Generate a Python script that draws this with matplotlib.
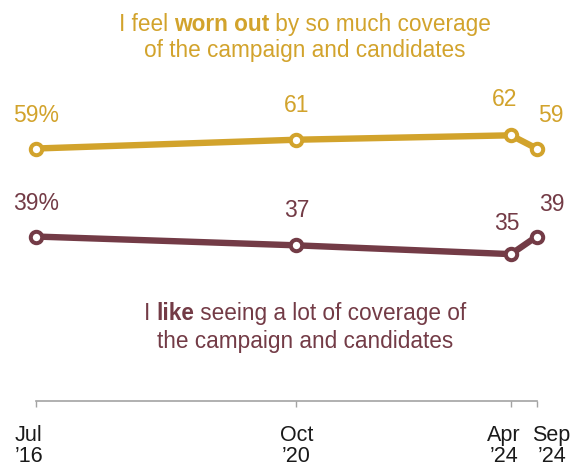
import matplotlib
matplotlib.use("Agg")
import matplotlib.pyplot as plt
from matplotlib.transforms import IdentityTransform, offset_copy, Affine2D
from matplotlib import font_manager

# Survey waves (decimal years, mid-month) and tick labels
survey_dates = [2016 + 6.5 / 12, 2020 + 9.5 / 12, 2024 + 3.5 / 12, 2024 + 8.5 / 12]
tick_labels = ["Jul\n\u201916", "Oct\n\u201920", "Apr\n\u201924", "Sep\n\u201924"]

# Share of U.S. adults (%)
worn_out = [59, 61, 62, 59]
like_coverage = [39, 37, 35, 39]

GOLD = "#D2A32C"
MAROON = "#733B46"
AXIS_GRAY = "#A3A3A3"

available = {f.name for f in font_manager.fontManager.ttflist}
FONT = ["Liberation Sans Narrow", "Liberation Sans", "DejaVu Sans"]
FONT = [f for f in FONT if f in available] or ["DejaVu Sans"]
plt.rcParams["font.family"] = FONT

fig = plt.figure(figsize=(5.79, 4.68), dpi=100)
ax = fig.add_axes([0, 0, 1, 1])
ax.set_xlim(2015.955, 2025.400)
ax.set_ylim(-13.6, 92.75)
ax.patch.set_visible(False)

for sp in ("top", "right", "left"):
    ax.spines[sp].set_visible(False)
ax.spines["bottom"].set_position(("data", 1.6))
ax.spines["bottom"].set_color(AXIS_GRAY)
ax.spines["bottom"].set_linewidth(1.2)
ax.spines["bottom"].set_bounds(survey_dates[0], survey_dates[-1])
ax.set_yticks([])
ax.set_xticks(survey_dates)
ax.set_xticklabels(tick_labels, fontsize=15.5, color="#1a1a1a", linespacing=1.0)
ax.tick_params(axis="x", direction="out", length=4, width=1, color=AXIS_GRAY, pad=13)

# nudge the two close 2024 labels apart
tick_nudge = [-7, 0, -7, 15]
for lbl, dx in zip(ax.get_xticklabels(), tick_nudge):
    lbl.set_transform(lbl.get_transform() + Affine2D().translate(dx, 0))

# value label offsets (pixels) relative to each marker
gold_nudge = [(0, 22), (0, 23), (-6, 24), (14, 22)]
maroon_nudge = [(0, 22), (0, 23), (-4, 19), (15, 21)]

for values, color, nudge in ((worn_out, GOLD, gold_nudge), (like_coverage, MAROON, maroon_nudge)):
    ax.plot(survey_dates, values, color=color, lw=4.6, solid_capstyle="round",
            marker="o", ms=8.2, mfc="white", mec=color, mew=2.9, zorder=3)
    for i, (d, v) in enumerate(zip(survey_dates, values)):
        label = f"{v}%" if i == 0 else f"{v}"
        dx, dy = nudge[i]
        tr = offset_copy(ax.transData, fig=fig, x=dx, y=dy, units="dots")
        ax.text(d, v, label, transform=tr, ha="center", va="bottom",
                fontsize=16.5, color=color)


def draw_runs(runs, xc_frac, y_frac, color, size):
    """Draw one centered line made of (text, weight) runs."""
    r = fig.canvas.get_renderer()

    def advance(s, w):
        t = ax.text(0, 0, s + "|", fontsize=size, fontweight=w)
        b = ax.text(0, 0, "|", fontsize=size, fontweight=w)
        width = t.get_window_extent(r).width - b.get_window_extent(r).width
        t.remove()
        b.remove()
        return width

    advs = [advance(s, w) for s, w in runs]
    x0, y0 = ax.transAxes.transform((xc_frac, y_frac))
    x = x0 - sum(advs) / 2
    for (s, w), a in zip(runs, advs):
        ax.text(x, y0, s, transform=IdentityTransform(), fontsize=size,
                fontweight=w, color=color, ha="left", va="baseline")
        x += a


H = 468.0
W = 579.0
TITLE_SIZE = 16.3
draw_runs([("I feel ", "normal"), ("worn out", "bold"), (" by so much coverage", "normal")],
          305 / W, 1 - 31 / H, GOLD, TITLE_SIZE)
draw_runs([("of the campaign and candidates", "normal")], 305 / W, 1 - 57 / H, GOLD, TITLE_SIZE)
draw_runs([("I ", "normal"), ("like", "bold"), (" seeing a lot of coverage of", "normal")],
          305 / W, 1 - 320 / H, MAROON, TITLE_SIZE)
draw_runs([("the campaign and candidates", "normal")], 305 / W, 1 - 348 / H, MAROON, TITLE_SIZE)

fig.savefig("out.png", dpi=100)
